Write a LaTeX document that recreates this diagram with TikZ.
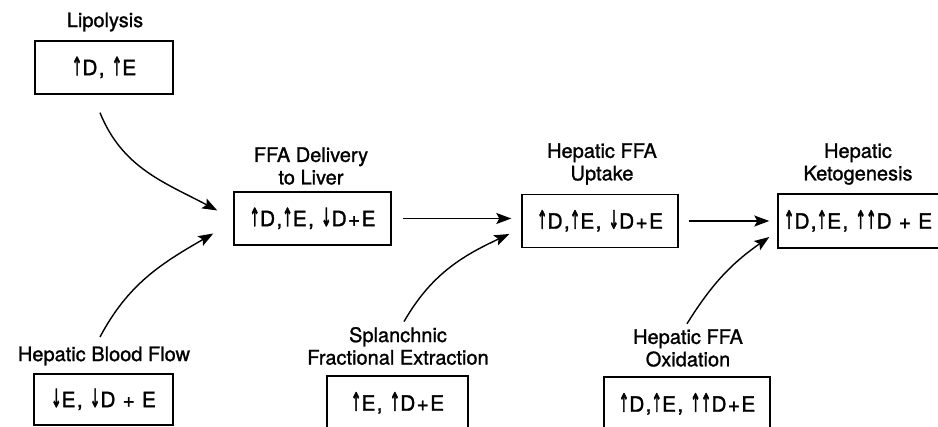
\documentclass[tikz,border=0pt]{standalone}
\usepackage{fontspec}
\usepackage{graphicx}
\setmainfont{TeX Gyre Heros}[FakeBold=1.2]
\newfontfamily\boxfont{TeX Gyre Heros}[FakeBold=1.4,LetterSpace=6]
\newfontfamily\symfont{DejaVu Sans}[FakeBold=3]
\usetikzlibrary{arrows.meta,calc}
\newcommand\UA{\scalebox{0.6}[1.2]{\symfont ↑}}
\newcommand\DA{\scalebox{0.6}[1.2]{\symfont ↓}}
\begin{document}
\begin{tikzpicture}[x=1pt,y=1pt,
  box/.style={draw,line width=1.4pt,minimum height=53pt,inner sep=0pt,
    font=\boxfont\fontsize{21}{23}\selectfont},
  lbl/.style={align=center,font=\fontsize{20}{22.5}\selectfont},
  conn/.style={line width=1.4pt,-{Stealth[length=15pt,width=11pt,inset=3pt]}}]
\clip (0,0) rectangle (938,427);
% top row
\node[box,minimum width=138pt] (lipo) at (104,359.5) {\UA D, \UA E};
\node[lbl] (lipoL) at (105,405) {Lipolysis};
\node[box,minimum width=157pt] (ffa) at (312.5,208.5) {\UA D,\UA E, \DA D+E};
\node[lbl] (ffaL) at (311,261) {FFA Delivery\\to Liver};
\node[box,minimum width=156pt] (upt) at (600,206) {\UA D,\UA E, \DA D+E};
\node[lbl] (uptL) at (602,263) {Hepatic FFA\\Uptake};
\node[box,minimum width=172pt,minimum height=54pt] (keto) at (864,206) {\hspace*{-12pt}\UA D,\UA E, \UA\UA D + E};
\node[lbl] (ketoL) at (858,263) {Hepatic\\Ketogenesis};
% bottom row
\node[box,minimum width=139pt,minimum height=51pt] (blood) at (103.5,27.5) {\DA E, \DA D + E};
\node[lbl] (bloodL) at (104,71) {Hepatic Blood Flow};
\node[box,minimum width=141pt,minimum height=54pt] (spl) at (397.5,24) {\UA E, \UA D+E};
\node[lbl] (splL) at (398,81) {Splanchnic\\Fractional Extraction};
\node[box,minimum width=166pt,minimum height=54pt] (oxi) at (687,23) {\UA D,\UA E, \UA\UA D+E};
\node[lbl] (oxiL) at (688,79) {Hepatic FFA\\Oxidation};
% connector ends
\coordinate (a1) at ($(lipo.south)+(-4,-18)$);
\coordinate (a2) at ($(ffa.west)+(-16,8)$);
\coordinate (b1) at ($(bloodL.north)+(-4,6)$);
\coordinate (b2) at ($(ffa.west)+(-20,-15)$);
\coordinate (c1) at ($(splL.north)+(6,2)$);
\coordinate (c2) at ($(upt.west)+(-12,-13)$);
\coordinate (d1) at ($(oxiL.north)+(-1,2)$);
\coordinate (d2) at ($(keto.west)+(-8,-16)$);
% connectors
\draw[conn] (a1) to[out=-68,in=152] (a2);
\draw[conn] (b1) to[out=62,in=-150] (b2);
\draw[conn] (c1) to[out=60,in=-155] (c2);
\draw[conn] (d1) to[out=58,in=-145] (d2);
\draw[conn,shorten <=11pt,shorten >=10pt] (ffa.east) -- (ffa.east -| upt.west);
\draw[conn,shorten <=10pt,shorten >=8pt] (upt.east) -- (upt.east -| keto.west);
\end{tikzpicture}
\end{document}
